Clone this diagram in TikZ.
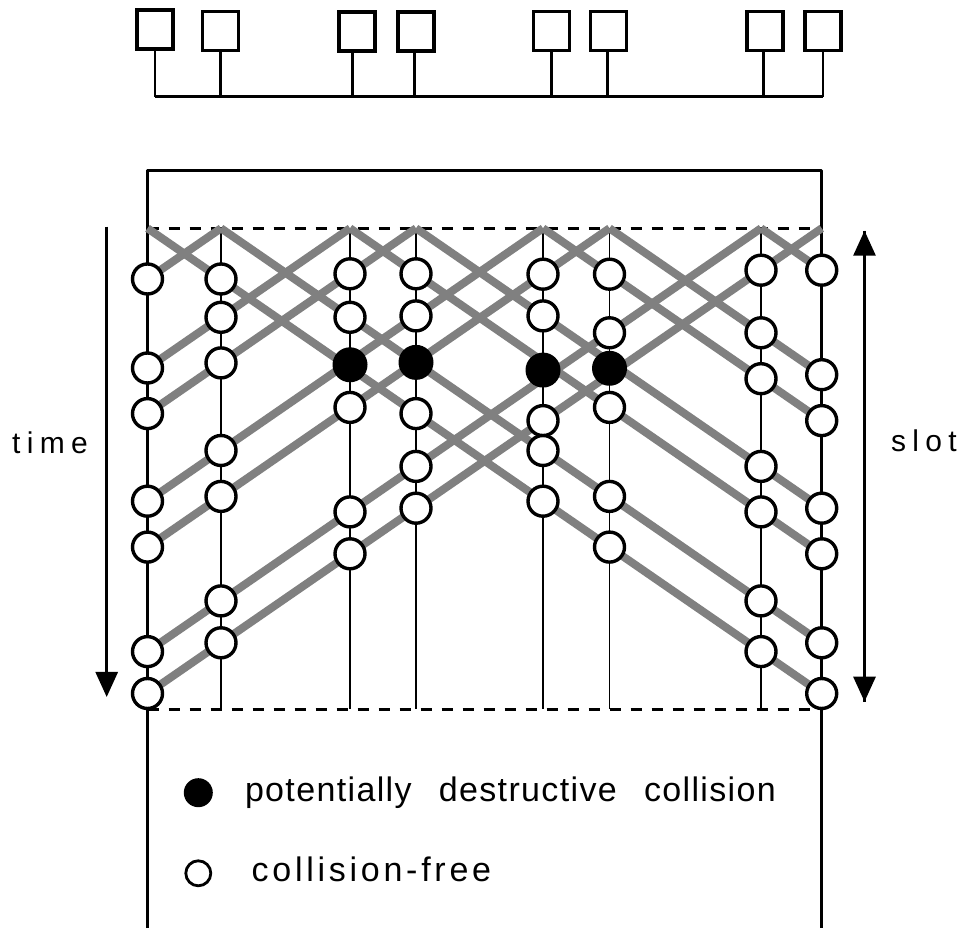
\documentclass[tikz,border=0pt]{standalone}
\usepackage{fontspec}
\setmainfont{Liberation Sans}
\newfontfamily\axisfont[LetterSpace=21]{Liberation Sans}
\newfontfamily\keyfont[LetterSpace=4]{Liberation Sans}
\newfontfamily\keyfontwide[LetterSpace=11]{Liberation Sans}
\usetikzlibrary{arrows.meta}
\begin{document}
\begin{tikzpicture}[x=1pt,y=1pt,
  station/.style={rectangle,draw=drawColor,fill=fillColor,line width=3.5pt,minimum width=36pt,minimum height=39pt,inner sep=0pt},
  free/.style={circle,draw=drawColor,fill=fillColor,line width=3.4pt,minimum size=30pt,inner sep=0pt},
  hit/.style={circle,fill=drawColor,minimum size=35pt,inner sep=0pt},
  band/.style={draw=bandColor,line width=8pt,line cap=butt},
  tip/.style={-{Triangle[length=25pt,width=22pt]}}]
\definecolor{fillColor}{RGB}{255,255,255}
\definecolor{drawColor}{RGB}{0,0,0}
\definecolor{bandColor}{gray}{0.5}
\path[use as bounding box,fill=fillColor] (0,0) rectangle (965.00,931.00);

% stations on the bus
\node[station] (box1) at (155.00,901.50) {};
\node[station] (box2) at (220.50,900.00) {};
\node[station] (box3) at (357.00,899.50) {};
\node[station] (box4) at (416.00,899.50) {};
\node[station] (box5) at (551.50,900.00) {};
\node[station] (box6) at (608.50,900.00) {};
\node[station] (box7) at (765.00,900.00) {};
\node[station] (box8) at (823.00,900.00) {};
\coordinate (tap1) at (155.00,834.30);
\coordinate (tap2) at (220.50,834.30);
\coordinate (tap3) at (352.50,834.30);
\coordinate (tap4) at (414.50,834.30);
\coordinate (tap5) at (551.50,834.30);
\coordinate (tap6) at (607.50,834.30);
\coordinate (tap7) at (763.50,834.30);
\coordinate (tap8) at (823.00,834.30);
\path[draw=drawColor,line width= 3.0pt] (tap1) -- (tap8);
\path[draw=drawColor,line width= 2.8pt] (box1.south) -- (tap1);
\path[draw=drawColor,line width= 2.8pt] (box2.south) -- (tap2);
\path[draw=drawColor,line width= 2.8pt] (tap3 |- box3.south) -- (tap3);
\path[draw=drawColor,line width= 2.8pt] (tap4 |- box4.south) -- (tap4);
\path[draw=drawColor,line width= 2.8pt] (box5.south) -- (tap5);
\path[draw=drawColor,line width= 2.8pt] (tap6 |- box6.south) -- (tap6);
\path[draw=drawColor,line width= 2.8pt] (tap7 |- box7.south) -- (tap7);
\path[draw=drawColor,line width= 2.8pt] (box8.south) -- (tap8);

% time lines of the stations
\coordinate (frm1) at (147.50,760.50);
\coordinate (frm8) at (821.70,760.50);
\coordinate (end1) at (147.50,  3.00);
\coordinate (end8) at (821.70,  3.00);
\coordinate (top1) at (147.50,702.70);
\coordinate (top2) at (221.00,702.70);
\coordinate (top3) at (350.00,702.70);
\coordinate (top4) at (416.00,702.70);
\coordinate (top5) at (543.00,702.70);
\coordinate (top6) at (609.50,702.70);
\coordinate (top7) at (761.00,702.70);
\coordinate (top8) at (821.70,702.70);
\coordinate (bot1) at (147.50,221.70);
\coordinate (bot2) at (221.00,221.70);
\coordinate (bot3) at (350.00,221.70);
\coordinate (bot4) at (416.00,221.70);
\coordinate (bot5) at (543.00,221.70);
\coordinate (bot6) at (609.50,221.70);
\coordinate (bot7) at (761.00,221.70);
\coordinate (bot8) at (821.70,221.70);

\path[draw=drawColor,line width= 2.8pt,line join=round] (end1) -- (frm1) -- (frm8) -- (end8);
\path[draw=drawColor,line width= 1.8pt] (top2) -- (bot2);
\path[draw=drawColor,line width= 1.8pt] (top3) -- (bot3);
\path[draw=drawColor,line width= 1.8pt] (top4) -- (bot4);
\path[draw=drawColor,line width= 1.8pt] (top5) -- (bot5);
\path[draw=drawColor,line width= 1.8pt] (top6) -- (bot6);
\path[draw=drawColor,line width= 1.8pt] (top7) -- (bot7);
\path[draw=drawColor,line width= 3.0pt,dash pattern=on 11pt off 10pt] (top1) -- (top8);
\path[draw=drawColor,line width= 3.0pt,dash pattern=on 11pt off 10pt] (bot1) -- (bot8);

% signal fronts
\coordinate (lft2) at (147.50,652.00);
\coordinate (lft3) at (147.50,563.00);
\coordinate (lft4) at (147.50,517.40);
\coordinate (lft5) at (147.50,429.80);
\coordinate (lft6) at (147.50,383.90);
\coordinate (lft7) at (147.50,279.40);
\coordinate (lft8) at (147.50,237.50);
\coordinate (rgt1) at (821.70,237.50);
\coordinate (rgt2) at (821.70,288.20);
\coordinate (rgt3) at (821.70,377.20);
\coordinate (rgt4) at (821.70,422.80);
\coordinate (rgt5) at (821.70,510.40);
\coordinate (rgt6) at (821.70,556.30);
\coordinate (rgt7) at (821.70,660.80);

\path[band] (top1) -- (rgt1);
\path[band] (top2) -- (lft2);
\path[band] (top2) -- (rgt2);
\path[band] (top3) -- (lft3);
\path[band] (top3) -- (rgt3);
\path[band] (top4) -- (lft4);
\path[band] (top4) -- (rgt4);
\path[band] (top5) -- (lft5);
\path[band] (top5) -- (rgt5);
\path[band] (top6) -- (lft6);
\path[band] (top6) -- (rgt6);
\path[band] (top7) -- (lft7);
\path[band] (top7) -- (rgt7);
\path[band] (top8) -- (lft8);

% arrivals
\node[free] (a1a) at (lft2) {};
\node[free] (a1b) at (lft3) {};
\node[free] (a1c) at (lft4) {};
\node[free] (a1d) at (lft5) {};
\node[free] (a1e) at (lft6) {};
\node[free] (a1f) at (lft7) {};
\node[free] (a1g) at (lft8) {};

\node[free] (a2a) at (221.00,652.00) {};
\node[free] (a2b) at (221.00,613.70) {};
\node[free] (a2c) at (221.00,568.10) {};
\node[free] (a2d) at (221.00,480.50) {};
\node[free] (a2e) at (221.00,434.60) {};
\node[free] (a2f) at (221.00,330.10) {};
\node[free] (a2g) at (221.00,288.20) {};

\node[free] (a3a) at (350.00,657.20) {};
\node[free] (a3b) at (350.00,613.70) {};
\node[hit]  (h3)  at (350.00,566.20) {};
\node[free] (a3c) at (350.00,523.60) {};
\node[free] (a3d) at (350.00,419.10) {};
\node[free] (a3e) at (350.00,377.20) {};

\node[free] (a4a) at (416.00,657.20) {};
\node[free] (a4b) at (416.00,615.10) {};
\node[hit]  (h4)  at (416.00,568.60) {};
\node[free] (a4c) at (416.00,517.40) {};
\node[free] (a4d) at (416.00,464.60) {};
\node[free] (a4e) at (416.00,422.80) {};

\node[free] (a5a) at (543.00,656.80) {};
\node[free] (a5b) at (543.00,615.10) {};
\node[hit]  (h5)  at (543.00,560.90) {};
\node[free] (a5c) at (543.00,510.40) {};
\node[free] (a5d) at (543.00,480.50) {};
\node[free] (a5e) at (543.00,429.80) {};

\node[free] (a6a) at (609.50,656.80) {};
\node[free] (a6b) at (609.50,598.20) {};
\node[hit]  (h6)  at (609.50,562.70) {};
\node[free] (a6c) at (609.50,523.60) {};
\node[free] (a6d) at (609.50,434.60) {};
\node[free] (a6e) at (609.50,383.90) {};

\node[free] (a7a) at (761.00,660.80) {};
\node[free] (a7b) at (761.00,598.20) {};
\node[free] (a7c) at (761.00,552.30) {};
\node[free] (a7d) at (761.00,464.60) {};
\node[free] (a7e) at (761.00,419.10) {};
\node[free] (a7f) at (761.00,330.10) {};
\node[free] (a7g) at (761.00,279.40) {};

\node[free] (a8a) at (rgt7) {};
\node[free] (a8b) at (rgt6) {};
\node[free] (a8c) at (rgt5) {};
\node[free] (a8d) at (rgt4) {};
\node[free] (a8e) at (rgt3) {};
\node[free] (a8f) at (rgt2) {};
\node[free] (a8g) at (rgt1) {};

% axes
\coordinate (tm1) at (106.70,704.30);
\coordinate (tm2) at (106.70,234.00);
\coordinate (sl1) at (864.50,229.30);
\coordinate (sl2) at (864.50,700.30);
\path[draw=drawColor,line width= 2.8pt,tip] (tm1) -- (tm2);
\path[draw=drawColor,line width= 2.8pt,tip] (sl1) -- (sl2);
\path[draw=drawColor,line width= 2.8pt,tip] (sl2) -- (sl1);

\node[text=drawColor,anchor=base,inner sep=0pt, outer sep=0pt, scale=  3.00] (timelabel) at ( 50.00,477.00) {\axisfont time};
\node[text=drawColor,anchor=base,inner sep=0pt, outer sep=0pt, scale=  3.00] (slotlabel) at (924.00,479.00) {\axisfont slot};

% key
\node[hit,minimum size=29pt] (keyhit) at (198.30,138.30) {};
\node[free,minimum size=25pt,line width=2.8pt] (keyfree) at (198.30, 57.70) {};
\node[text=drawColor,anchor=base west,inner sep=0pt, outer sep=0pt, scale=  3.40] (keyhittext) at (245.00,129.30) {\keyfont potentially\hspace{8pt}destructive\hspace{8pt}collision};
\node[text=drawColor,anchor=base west,inner sep=0pt, outer sep=0pt, scale=  3.40] (keyfreetext) at (251.70, 49.30) {\keyfontwide collision-free};
\end{tikzpicture}
\end{document}
